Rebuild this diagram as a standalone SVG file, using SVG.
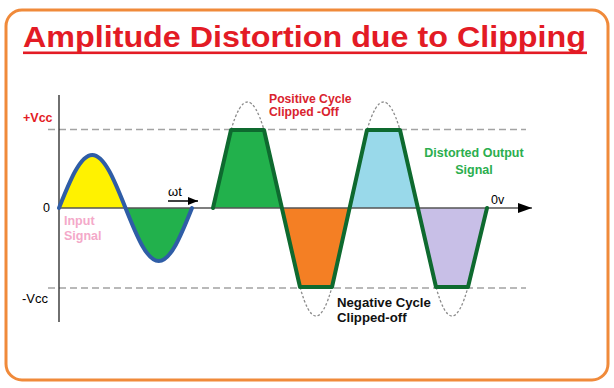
<svg xmlns="http://www.w3.org/2000/svg" width="614" height="388" viewBox="0 0 614 388">
<style>
text{font-family:"Liberation Sans",Arial,sans-serif}
.b{font-weight:bold}
.dash{stroke:#a3a3a3;stroke-width:1.5;stroke-dasharray:7,4;fill:none}
.ghost{stroke:#8c8c8c;stroke-width:1.3;stroke-dasharray:2.5,2;fill:none}
.out{stroke:#0e6a2f;stroke-width:4;fill:none;stroke-linejoin:round;stroke-linecap:round}
</style>
<defs>
<marker id="ah" viewBox="0 0 10 8" refX="10" refY="4" markerWidth="10" markerHeight="8" markerUnits="userSpaceOnUse" orient="auto">
<path d="M0,0 L10,4 L0,8 Z" fill="#000"/>
</marker>
<marker id="ah2" viewBox="0 0 14 10" refX="14" refY="5" markerWidth="14" markerHeight="10" markerUnits="userSpaceOnUse" orient="auto">
<path d="M0,0 L14,5 L0,10 Z" fill="#000"/>
</marker>
</defs>
<rect x="6" y="10" width="602" height="370" rx="16" fill="#fff" stroke="#f08a3a" stroke-width="3"/>
<g id="title">
<text x="23" y="47" font-size="29" class="b" fill="#e31b25" textLength="563" lengthAdjust="spacingAndGlyphs">Amplitude Distortion due to Clipping</text>
<rect x="23" y="51.5" width="564" height="2.6" fill="#e31b25"/>
</g>
<g id="fills">
<path d="M59,208 C69.84,180.85 80.22,155 92.25,155 C104.28,155 114.66,180.85 125.5,208 Z" fill="#fff200"/>
<path d="M125.5,208 C136.34,235.15 146.72,261 158.75,261 C170.78,261 181.16,235.15 192,208 Z" fill="#22b14c"/>
<polygon points="213,208 231,130 264,130 282,208" fill="#22b14c"/>
<polygon points="282,208 300,287 332,287 349,208" fill="#f47f24"/>
<polygon points="349,208 367,130 400,130 418,208" fill="#99d9ea"/>
<polygon points="418,208 436,287 468,287 487,208" fill="#c8bfe7"/>
</g>
<g id="connectors">
<line x1="48" y1="129.5" x2="526" y2="129.5" class="dash"/>
<line x1="48" y1="288" x2="526" y2="288" class="dash"/>
<line x1="59" y1="95" x2="59" y2="322" stroke="#222" stroke-width="1.3"/>
<line x1="59" y1="208" x2="532" y2="208" stroke="#555" stroke-width="1.5" marker-end="url(#ah2)"/>
<line x1="168" y1="201" x2="198" y2="201" stroke="#000" stroke-width="1.5" marker-end="url(#ah)"/>
<path d="M231,130 Q247.5,74 264,130" class="ghost"/>
<path d="M300,287 Q316,345 332,287" class="ghost"/>
<path d="M367,130 Q383.5,74 400,130" class="ghost"/>
<path d="M436,287 Q452,345 468,287" class="ghost"/>
</g>
<g id="input-signal">
<path d="M59,208 C69.84,180.85 80.22,155 92.25,155 C104.28,155 114.66,180.85 125.5,208 C136.34,235.15 146.72,261 158.75,261 C170.78,261 181.16,235.15 192,208" fill="none" stroke="#2f5da6" stroke-width="4" stroke-linecap="round"/>
<text x="64" y="225" font-size="12.5" class="b" fill="#f4a9c9">Input</text>
<text x="64" y="240" font-size="12.5" class="b" fill="#f4a9c9">Signal</text>
</g>
<g id="output-signal">
<path d="M213,208 L231,130 L264,130 L300,287 L332,287 L367,130 L400,130 L436,287 L468,287 L487,208" class="out"/>
<text x="474" y="157" font-size="12.5" class="b" fill="#2bae4e" text-anchor="middle">Distorted Output</text>
<text x="474" y="174" font-size="12.5" class="b" fill="#2bae4e" text-anchor="middle">Signal</text>
</g>
<g id="labels">
<text x="23" y="122" font-size="12.5" class="b" fill="#e31b25">+Vcc</text>
<text x="43" y="212" font-size="12.5" fill="#000">0</text>
<text x="22" y="303" font-size="13" fill="#000">-Vcc</text>
<text x="168" y="196" font-size="13" fill="#000">ωt</text>
<text x="491" y="204" font-size="12.5" fill="#000">0v</text>
</g>
<g id="positive-note">
<text x="269" y="103" font-size="12.2" class="b" fill="#d9232e">Positive Cycle</text>
<text x="269" y="116" font-size="12.2" class="b" fill="#d9232e">Clipped -Off</text>
</g>
<g id="negative-note">
<text x="337" y="307" font-size="13.2" class="b" fill="#111">Negative Cycle</text>
<text x="337" y="322" font-size="13.2" class="b" fill="#111">Clipped-off</text>
</g>
</svg>
